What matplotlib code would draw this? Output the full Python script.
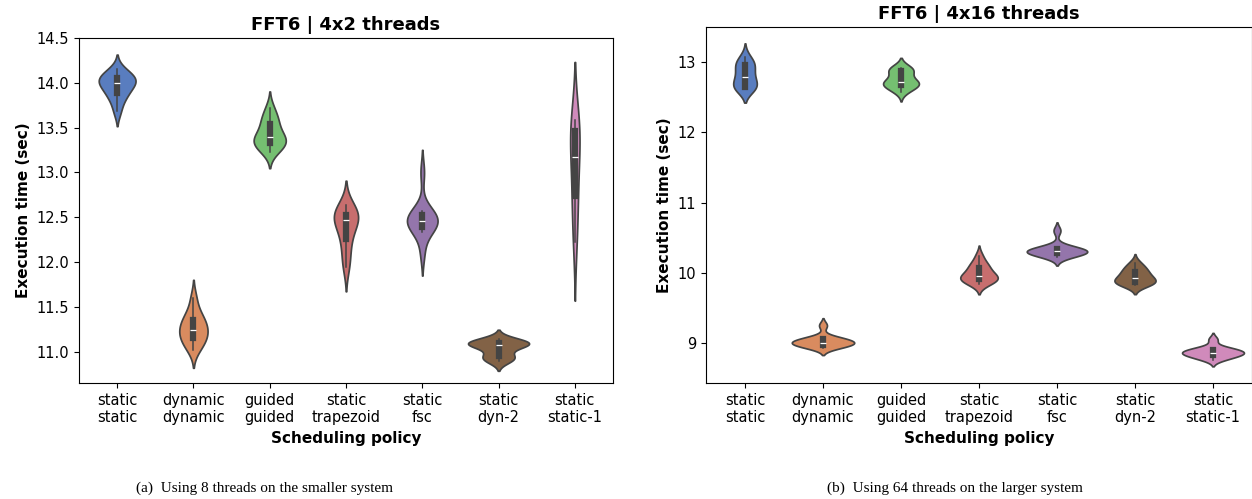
import numpy as np
import pandas as pd
import seaborn as sns
import matplotlib
matplotlib.use("Agg")
import matplotlib.pyplot as plt
from matplotlib.collections import PolyCollection

policies = ["static\nstatic", "dynamic\ndynamic", "guided\nguided",
            "static\ntrapezoid", "static\nfsc", "static\ndyn-2",
            "static\nstatic-1"]

# execution times (sec), 8 threads on the smaller system
small_static = [13.68, 13.80, 13.86, 13.90, 13.95, 13.99, 14.00, 14.03, 14.05, 14.07, 14.10, 14.15]
small_dynamic = [11.02, 11.08, 11.12, 11.16, 11.20, 11.23, 11.26, 11.30, 11.35, 11.38, 11.45, 11.60]
small_guided = [13.23, 13.28, 13.30, 13.33, 13.36, 13.38, 13.40, 13.45, 13.52, 13.58, 13.62, 13.72]
small_trapezoid = [11.94, 12.05, 12.20, 12.28, 12.38, 12.45, 12.48, 12.50, 12.52, 12.55, 12.58, 12.64]
small_fsc = [12.10, 12.33, 12.38, 12.40, 12.43, 12.45, 12.47, 12.49, 12.52, 12.54, 12.57, 13.00]
small_dyn2 = [10.89, 10.92, 10.94, 10.96, 11.04, 11.07, 11.08, 11.09, 11.10, 11.10, 11.11, 11.14]
small_static1 = [12.22, 12.55, 12.80, 13.05, 13.30, 13.45, 13.50, 13.58]

# execution times (sec), 64 threads on the larger system
large_static = [12.62, 12.63, 12.63, 12.66, 12.72, 12.77, 12.81, 12.88, 12.95, 12.97, 13.00, 13.07]
large_dynamic = [8.93, 8.95, 8.96, 8.98, 9.00, 9.00, 9.01, 9.03, 9.05, 9.06, 9.08, 9.25]
large_guided = [12.58, 12.63, 12.66, 12.68, 12.70, 12.71, 12.73, 12.78, 12.86, 12.89, 12.90, 12.92]
large_trapezoid = [9.84, 9.87, 9.89, 9.91, 9.93, 9.94, 9.97, 10.00, 10.06, 10.10, 10.13, 10.24]
large_fsc = [10.22, 10.25, 10.27, 10.28, 10.29, 10.30, 10.31, 10.32, 10.34, 10.35, 10.37, 10.60]
large_dyn2 = [9.82, 9.84, 9.85, 9.87, 9.89, 9.91, 9.94, 9.97, 10.01, 10.04, 10.08, 10.14]
large_static1 = [8.76, 8.79, 8.81, 8.83, 8.85, 8.86, 8.86, 8.88, 8.90, 8.92, 8.93, 9.05]

small_runs = [small_static, small_dynamic, small_guided, small_trapezoid,
              small_fsc, small_dyn2, small_static1]
large_runs = [large_static, large_dynamic, large_guided, large_trapezoid,
              large_fsc, large_dyn2, large_static1]

colors = [sns.desaturate(c, 0.75) for c in sns.color_palette("muted", 7)]


def to_frame(runs):
    rows = []
    for p, vals in zip(policies, runs):
        for v in vals:
            rows.append((p, v))
    return pd.DataFrame(rows, columns=["policy", "time"])


def draw(ax, runs, title):
    df = to_frame(runs)
    # one colour so the area scaling is shared, recolour afterwards
    sns.violinplot(data=df, x="policy", y="time", order=policies,
                   color=colors[0], saturation=1, linecolor="#444444",
                   inner="box", inner_kws=dict(box_width=4.5, whis_width=1.1),
                   ax=ax)
    polys = [c for c in ax.collections if isinstance(c, PolyCollection)]
    for poly, col in zip(polys, colors):
        poly.set_facecolor(col)
    ax.set_title(title, fontsize=13, fontweight="bold")
    ax.set_xlabel("Scheduling policy", fontsize=11, fontweight="bold")
    ax.set_ylabel("Execution time (sec)", fontsize=11, fontweight="bold")
    ax.tick_params(labelsize=10.5)


fig = plt.figure(figsize=(12.52, 4.99), dpi=100)
ax1 = fig.add_axes([0.0631, 0.2325, 0.4265, 0.6914])
ax2 = fig.add_axes([0.5639, 0.2325, 0.4361, 0.7134])

draw(ax1, small_runs, "FFT6 | 4x2 threads")
ax1.set_ylim(10.65, 14.5)
ax1.set_yticks([11.0, 11.5, 12.0, 12.5, 13.0, 13.5, 14.0, 14.5])

draw(ax2, large_runs, "FFT6 | 4x16 threads")
ax2.set_ylim(8.43, 13.5)
ax2.set_yticks([9, 10, 11, 12, 13])

fig.text(265 / 1252, 11 / 499, "(a)  Using 8 threads on the smaller system",
         family="Liberation Serif", fontsize=11, ha="center", va="center")
fig.text(955 / 1252, 11 / 499, "(b)  Using 64 threads on the larger system",
         family="Liberation Serif", fontsize=11, ha="center", va="center")

fig.savefig("out.png", dpi=100)
